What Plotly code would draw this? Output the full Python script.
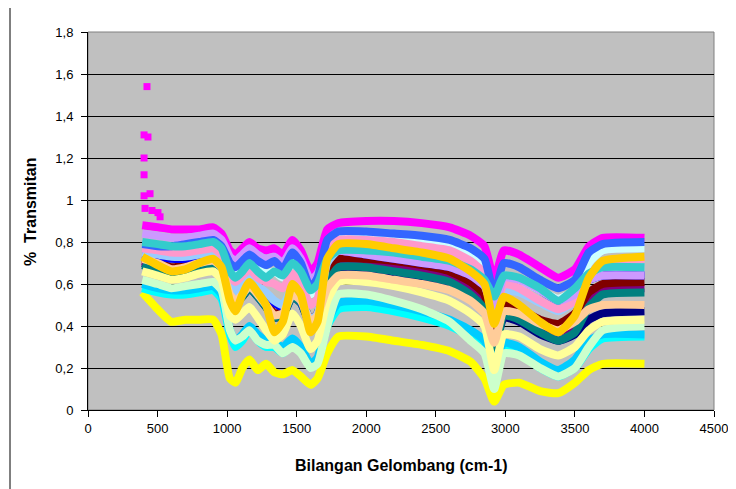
import plotly.graph_objects as go

# Wavenumbers (cm-1) at which each spectrum was read
wn = [390, 500, 600, 700, 800, 900, 960, 1020, 1060, 1110, 1160, 1220, 1280, 1340, 1400, 1470, 1530, 1600, 1650, 1720,
      1800, 2000, 2200, 2400, 2600, 2750, 2850, 2920, 2990, 3100, 3250, 3380, 3500, 3600, 3700, 4000]

navy = [.70, .68, .66, .67, .69, .70, .67, .54, .51, .54, .58, .54, .49, .44, .45, .54, .51, .41, .44, .62,
        .67, .66, .64, .62, .58, .53, .47, .30, .44, .42, .36, .33, .36, .43, .46, .47]
magenta = [.88, .87, .86, .86, .86, .87, .84, .76, .74, .77, .80, .77, .76, .77, .74, .81, .76, .66, .70, .86,
           .89, .90, .90, .89, .87, .83, .78, .62, .76, .74, .68, .63, .67, .78, .82, .82]
yellow = [.56, .48, .42, .43, .43, .43, .36, .15, .13, .20, .24, .19, .22, .18, .17, .19, .16, .12, .15, .27,
          .35, .35, .33, .31, .28, .23, .15, .04, .12, .13, .09, .08, .13, .19, .22, .22]
cyan = [.58, .56, .55, .55, .56, .57, .53, .36, .30, .33, .38, .33, .30, .30, .27, .31, .28, .21, .23, .40,
        .48, .49, .47, .44, .40, .35, .30, .18, .30, .27, .20, .16, .20, .29, .34, .35]
purple = [.71, .69, .67, .68, .70, .71, .68, .55, .52, .55, .59, .55, .50, .45, .46, .55, .52, .42, .45, .64,
          .70, .70, .68, .66, .63, .58, .52, .33, .48, .46, .40, .37, .41, .52, .57, .58]
darkred = [.72, .70, .68, .69, .71, .72, .69, .56, .53, .56, .60, .56, .51, .46, .47, .56, .53, .43, .46, .66,
           .72, .72, .71, .69, .66, .61, .55, .36, .50, .48, .43, .41, .46, .56, .60, .61]
teal = [.69, .67, .65, .66, .68, .69, .66, .54, .51, .54, .58, .54, .49, .44, .45, .54, .51, .41, .44, .60,
        .68, .68, .66, .64, .61, .55, .48, .24, .45, .43, .37, .33, .37, .49, .55, .56]
blue = [.74, .73, .72, .72, .73, .74, .71, .59, .55, .59, .62, .58, .55, .51, .49, .57, .52, .42, .45, .75,
        .76, .74, .72, .70, .68, .64, .59, .47, .63, .62, .57, .52, .55, .62, .64, .64]
skyblue = [.60, .58, .57, .57, .58, .59, .55, .38, .33, .36, .40, .36, .33, .32, .30, .34, .30, .22, .25, .42,
           .51, .52, .50, .47, .43, .38, .33, .24, .32, .30, .23, .19, .24, .33, .36, .36]
lightturq = [.79, .78, .77, .77, .78, .79, .76, .67, .64, .67, .71, .67, .65, .66, .63, .70, .66, .55, .59, .78,
             .83, .83, .82, .81, .79, .74, .68, .50, .64, .62, .57, .53, .57, .70, .76, .77]
lightgreen = [.62, .60, .58, .59, .60, .61, .57, .38, .33, .35, .38, .33, .31, .31, .27, .30, .27, .20, .22, .40,
              .55, .55, .52, .48, .42, .33, .27, .10, .27, .26, .20, .16, .20, .30, .38, .40]
lightyellow = [.66, .64, .62, .63, .65, .66, .62, .45, .43, .46, .49, .44, .38, .33, .36, .46, .40, .29, .33, .52,
               .61, .61, .59, .56, .52, .46, .40, .19, .36, .35, .29, .26, .30, .38, .42, .43]
paleblue = [.75, .74, .73, .73, .74, .75, .72, .60, .56, .60, .63, .59, .56, .52, .50, .58, .53, .43, .46, .70,
            .76, .76, .75, .73, .71, .67, .62, .50, .57, .56, .51, .47, .52, .64, .68, .68]
rose = [.77, .76, .75, .75, .76, .77, .74, .64, .61, .64, .67, .63, .61, .60, .58, .65, .60, .50, .53, .75,
        .81, .81, .80, .78, .76, .71, .65, .46, .60, .58, .52, .48, .52, .64, .70, .72]
lavender = [.84, .83, .82, .82, .83, .84, .81, .73, .71, .74, .77, .74, .72, .73, .70, .77, .72, .62, .65, .76,
            .76, .74, .72, .70, .68, .64, .59, .47, .63, .62, .57, .52, .55, .62, .64, .64]
tan = [.72, .70, .67, .68, .70, .71, .68, .55, .52, .55, .59, .55, .50, .45, .46, .55, .52, .42, .45, .58,
       .64, .64, .62, .60, .57, .52, .46, .32, .47, .46, .41, .38, .42, .48, .50, .50]
lightblue = [.79, .78, .78, .79, .80, .81, .78, .70, .68, .71, .74, .71, .69, .71, .67, .75, .70, .58, .63, .81,
             .85, .85, .84, .83, .81, .77, .72, .55, .70, .68, .62, .58, .62, .75, .79, .80]
aqua = [.80, .79, .78, .78, .79, .80, .77, .66, .63, .66, .70, .66, .63, .66, .64, .70, .66, .57, .60, .72,
        .76, .76, .75, .73, .71, .67, .62, .54, .64, .63, .58, .52, .58, .65, .68, .68]
gold = [.73, .69, .66, .67, .70, .72, .68, .52, .47, .55, .61, .56, .50, .37, .42, .60, .55, .37, .42, .72,
        .79, .79, .77, .75, .72, .66, .60, .41, .54, .50, .42, .37, .45, .63, .71, .73]

# scattered magenta points at the low-wavenumber end
mag_pts_x = [424, 403, 431, 403, 403, 403, 446, 410, 460, 503, 518]
mag_pts_y = [1.54, 1.31, 1.30, 1.20, 1.12, 1.02, 1.03, 0.96, 0.95, 0.94, 0.92]

y_ticks = [0, 0.2, 0.4, 0.6, 0.8, 1.0, 1.2, 1.4, 1.6, 1.8]
y_labels = ["0", "0,2", "0,4", "0,6", "0,8", "1", "1,2", "1,4", "1,6", "1,8"]
x_ticks = [0, 500, 1000, 1500, 2000, 2500, 3000, 3500, 4000, 4500]

series = [
    (navy, "#000080"), (magenta, "#FF00FF"), (yellow, "#FFFF00"), (cyan, "#00FFFF"),
    (purple, "#800080"), (darkred, "#800000"), (teal, "#008080"), (blue, "#0000FF"),
    (skyblue, "#00CCFF"), (lightturq, "#CCFFFF"), (lightgreen, "#CCFFCC"), (lightyellow, "#FFFF99"),
    (paleblue, "#99CCFF"), (rose, "#FF99CC"), (lavender, "#CC99FF"), (tan, "#FFCC99"),
    (lightblue, "#3366FF"), (aqua, "#33CCCC"), (gold, "#FFCC00"),
]

fig = go.Figure()
for vals, col in series:
    fig.add_trace(go.Scatter(x=wn, y=vals, mode="lines",
                             line=dict(color=col, width=8, shape="spline", smoothing=0.5),
                             showlegend=False, hoverinfo="skip"))
fig.add_trace(go.Scatter(x=mag_pts_x, y=mag_pts_y, mode="markers",
                         marker=dict(color="#FF00FF", symbol="square", size=7, line=dict(width=0)),
                         showlegend=False, hoverinfo="skip"))

# page body has an 8px margin, so the figure is offset by (8, 8) on screen
W_PLOT, H_PLOT = 626, 378
ML, MT = 80, 24
font = "Liberation Sans, Arial, sans-serif"
fig.update_layout(
    width=736, height=489,
    margin=dict(l=ML, r=736 - ML - W_PLOT, t=MT, b=489 - MT - H_PLOT, autoexpand=False),
    paper_bgcolor="white", plot_bgcolor="#C0C0C0",
    font=dict(family=font, size=13, color="black"),
    xaxis=dict(range=[0, 4500], tickvals=x_ticks, ticks="outside", ticklen=6, tickcolor="black",
               showline=True, linecolor="black", linewidth=1, showgrid=False, zeroline=False,
               tickfont=dict(size=13), automargin=False, fixedrange=True),
    yaxis=dict(range=[0, 1.8], tickvals=y_ticks, ticktext=y_labels, ticks="outside", ticklen=6,
               tickcolor="black", showline=True, linecolor="black", linewidth=1,
               showgrid=True, gridcolor="black", gridwidth=1, zeroline=False,
               tickfont=dict(size=13), ticklabelstandoff=5, automargin=False),
    shapes=[
        dict(type="rect", xref="paper", yref="paper", x0=0, y0=0, x1=1, y1=1,
             line=dict(color="#808080", width=1), layer="below"),
        dict(type="line", xref="paper", yref="paper", x0=-78 / W_PLOT, x1=-78 / W_PLOT,
             y0=-(489 - MT - H_PLOT) / H_PLOT, y1=1 + MT / H_PLOT, line=dict(color="black", width=1)),
    ],
    annotations=[
        dict(text="<b>%  Transmitan</b>", xref="paper", yref="paper", x=-58 / W_PLOT, y=198 / H_PLOT,
             xanchor="center", yanchor="middle", textangle=-90, showarrow=False,
             font=dict(size=16, family=font)),
        dict(text="<b>Bilangan Gelombang (cm-1)</b>", xref="paper", yref="paper", x=0.5, y=-55 / H_PLOT,
             xanchor="center", yanchor="middle", showarrow=False, font=dict(size=16, family=font)),
    ],
)

fig.write_html("out.html")
